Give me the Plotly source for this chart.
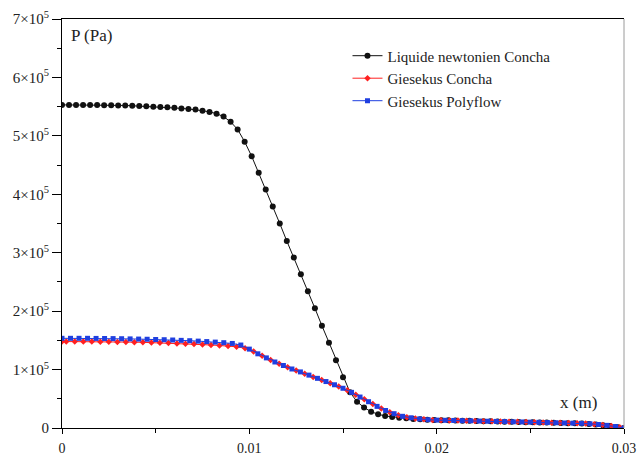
"""
Pressure profile P(x) along the channel: Newtonian vs Giesekus (Concha / Polyflow).
"""
import numpy as np
import plotly.graph_objects as go

FONT = "Liberation Serif, Times New Roman, serif"
INK = "#222222"

# sampling steps of the three solutions (m)
STEP_NEWT = 0.000375
STEP_GIES = 0.03 / 66

# pressure values, in units of 1e5 Pa
p_newt = [
    5.53, 5.53, 5.53, 5.53, 5.53, 5.53, 5.525, 5.525, 5.52, 5.52,
    5.515, 5.51, 5.505, 5.50, 5.495, 5.49, 5.48, 5.47, 5.46, 5.45,
    5.43, 5.41, 5.38, 5.33, 5.24, 5.11, 4.90, 4.65, 4.37, 4.08,
    3.79, 3.50, 3.20, 2.92, 2.63, 2.34, 2.05, 1.75, 1.46, 1.16,
    0.87, 0.61, 0.45, 0.35, 0.28, 0.235, 0.205, 0.19, 0.175, 0.165,
    0.155, 0.148, 0.142, 0.138, 0.134, 0.131, 0.128, 0.125, 0.122, 0.119,
    0.117, 0.114, 0.111, 0.108, 0.106, 0.103, 0.100, 0.097, 0.094, 0.092,
    0.089, 0.086, 0.083, 0.081, 0.078, 0.070, 0.060, 0.048, 0.033, 0.017,
    0.0,
]

p_poly = [
    1.535, 1.535, 1.535, 1.535, 1.533, 1.532, 1.530, 1.528, 1.525, 1.522,
    1.519, 1.515, 1.511, 1.506, 1.500, 1.494, 1.487, 1.479, 1.470, 1.460,
    1.447, 1.420, 1.350, 1.27, 1.20, 1.13, 1.07, 1.01, 0.96, 0.905,
    0.85, 0.795, 0.74, 0.68, 0.61, 0.53, 0.45, 0.37, 0.30, 0.245,
    0.20, 0.175, 0.155, 0.142, 0.135, 0.132, 0.129, 0.126, 0.123, 0.119,
    0.116, 0.113, 0.110, 0.106, 0.103, 0.100, 0.097, 0.093, 0.090, 0.086,
    0.083, 0.080, 0.072, 0.060, 0.045, 0.025, 0.0,
]

# Concha Giesekus: first point at x=0, then mid-steps, last at x=0.03
p_gies = [
    1.48,
    1.48, 1.48, 1.48, 1.479, 1.478, 1.476, 1.474, 1.472, 1.469, 1.466,
    1.462, 1.458, 1.453, 1.448, 1.442, 1.436, 1.429, 1.421, 1.412, 1.402,
    1.390, 1.365, 1.31, 1.235, 1.165, 1.10, 1.04, 0.985, 0.93, 0.875,
    0.82, 0.765, 0.71, 0.645, 0.57, 0.49, 0.41, 0.335, 0.27, 0.22,
    0.185, 0.163, 0.148, 0.137, 0.133, 0.130, 0.127, 0.124, 0.121, 0.117,
    0.114, 0.111, 0.108, 0.105, 0.101, 0.098, 0.095, 0.091, 0.088, 0.085,
    0.081, 0.076, 0.066, 0.053, 0.035, 0.013,
    0.0,
]

x_newt = np.arange(len(p_newt)) * STEP_NEWT
x_poly = np.arange(len(p_poly)) * STEP_GIES
x_gies = np.concatenate([[0.0], (np.arange(len(p_gies) - 2) + 0.5) * STEP_GIES, [0.03]])

x_ticks = [0, 0.01, 0.02, 0.03]
x_ticktext = ["0", "0.01", "0.02", "0.03"]
y_ticks = [0, 1e5, 2e5, 3e5, 4e5, 5e5, 6e5, 7e5]
y_ticktext = ["0"] + [f"{k}×10<sup>5</sup>" for k in range(1, 8)]

series = [
    ("Liquide newtonien Concha", x_newt, p_newt, "#111111", "circle", 6),
    ("Giesekus Concha", x_gies, p_gies, "#ff2020", "diamond", 5),
    ("Giesekus Polyflow", x_poly, p_poly, "#1f3fe0", "square", 5),
]

fig = go.Figure()
for name, xs, ps, col, sym, sz in series:
    fig.add_trace(go.Scatter(
        x=xs, y=np.array(ps) * 1e5, name=name, mode="lines+markers",
        line=dict(color=col, width=1),
        marker=dict(color=col, symbol=sym, size=sz),
    ))

fig.update_layout(
    width=637, height=458,
    paper_bgcolor="white", plot_bgcolor="white",
    font=dict(family=FONT, color=INK, size=14),
    margin=dict(l=62, r=13, t=19, b=30),
    showlegend=True,
    legend=dict(x=0.508, y=0.95, xanchor="left", yanchor="top",
                bgcolor="rgba(0,0,0,0)", font=dict(size=15, family=FONT),
                tracegroupgap=0, itemwidth=30),
    xaxis=dict(range=[0, 0.03], tickvals=x_ticks, ticktext=x_ticktext,
               showgrid=False, zeroline=False, showline=True, linecolor="#000",
               linewidth=1, mirror=True, ticks="outside", ticklen=5,
               tickcolor="#000", tickfont=dict(size=14, family=FONT),
               ticklabelstandoff=2, automargin=False,
               minor=dict(dtick=0.005, tick0=0, ticks="outside", ticklen=4,
                          tickcolor="#000", showgrid=False)),
    yaxis=dict(range=[0, 7e5], tickvals=y_ticks, ticktext=y_ticktext,
               showgrid=False, zeroline=False, showline=True, linecolor="#000",
               linewidth=1, mirror=False, ticks="outside", ticklen=9,
               tickcolor="#000", tickfont=dict(size=15, family=FONT),
               automargin=False,
               minor=dict(dtick=0.5e5, tick0=0, ticks="outside", ticklen=4,
                          tickcolor="#000", showgrid=False)),
    shapes=[dict(type="line", xref="paper", yref="paper", x0=1, x1=1, y0=0, y1=1,
                 line=dict(color="#9a9a9a", width=1))],
    annotations=[
        dict(text="P (Pa)", xref="paper", yref="paper", x=0.012, y=0.988,
             xanchor="left", yanchor="top", showarrow=False,
             font=dict(size=17, family=FONT, color=INK)),
        dict(text="x (m)", xref="paper", yref="paper", x=0.955, y=0.09,
             xanchor="right", yanchor="top", showarrow=False,
             font=dict(size=17, family=FONT, color=INK)),
    ],
)

# page body has an 8px default margin; drop it so the figure fills the window
fig.write_html("out.html", config={"displayModeBar": False},
               post_script="document.body.style.margin='0';document.body.style.overflow='hidden';")
